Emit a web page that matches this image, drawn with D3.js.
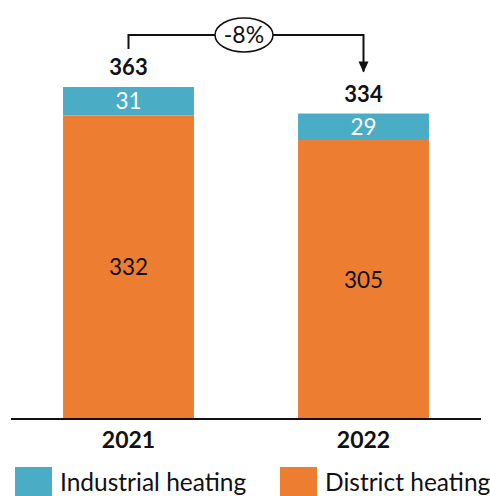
<!DOCTYPE html>
<html><head><meta charset="utf-8">
<script src="https://cdn.jsdelivr.net/npm/d3@7"></script>
<style>html,body{margin:0;padding:0;background:#fff;}</style>
</head><body>
<svg id="c" width="490" height="496"></svg>
<script>
const years = ["2021", "2022"];
const district = [332, 305];
const industrial = [31, 29];
const totals = [363, 334];
const changeLabel = "-8%";
const seriesNames = ["Industrial heating", "District heating"];
const colors = {industrial: "#4bacc6", district: "#ed7d31"};

const svg = d3.select("#c");
const font = "Lato, 'Open Sans', sans-serif";
const baseY = 419;
const x = d3.scaleBand().domain(years).range([11, 481]).paddingInner(0.443).paddingOuter(0.2215);
const y = d3.scaleLinear().domain([0, 363]).range([baseY, 87]);

const data = years.map((yr, i) => ({yr, d: district[i], ind: industrial[i], t: totals[i]}));

const g = svg.append("g");
g.selectAll(".dist").data(data).join("rect")
  .attr("x", d => x(d.yr)).attr("width", x.bandwidth())
  .attr("y", d => y(d.d)).attr("height", d => y(0) - y(d.d))
  .attr("fill", colors.district);
g.selectAll(".ind").data(data).join("rect")
  .attr("x", d => x(d.yr)).attr("width", x.bandwidth())
  .attr("y", d => y(d.d + d.ind)).attr("height", d => y(d.d) - y(d.d + d.ind))
  .attr("fill", colors.industrial);

g.selectAll(".dl").data(data).join("text")
  .attr("x", d => x(d.yr) + x.bandwidth()/2)
  .attr("y", d => (y(0) + y(d.d))/2 + 8)
  .attr("text-anchor", "middle").attr("font-family", font).attr("font-size", 22.5)
  .attr("fill", "#111").text(d => d.d);
g.selectAll(".il").data(data).join("text")
  .attr("x", d => x(d.yr) + x.bandwidth()/2)
  .attr("y", d => (y(d.d) + y(d.d + d.ind))/2 + 8)
  .attr("text-anchor", "middle").attr("font-family", font).attr("font-size", 22.5)
  .attr("fill", "#fff").text(d => d.ind);
g.selectAll(".tl").data(data).join("text")
  .attr("x", d => x(d.yr) + x.bandwidth()/2)
  .attr("y", d => y(d.t) - 12)
  .attr("text-anchor", "middle").attr("font-family", font).attr("font-size", 22).attr("font-weight", "bold")
  .attr("fill", "#111").text(d => d.t);

const ax = svg.append("g").attr("transform", `translate(0,${baseY})`)
  .call(d3.axisBottom(x).tickSize(0).tickPadding(13));
ax.select(".domain").attr("d", "M11,0H481").attr("stroke", "#111").attr("stroke-width", 2);
ax.selectAll("text").attr("font-family", font).attr("font-size", 23).attr("font-weight", "bold").attr("fill", "#111");

const cx0 = x(years[0]) + x.bandwidth()/2, cx1 = x(years[1]) + x.bandwidth()/2;
const topY = 35;
svg.append("path")
  .attr("d", `M${cx0},${y(totals[0]) - 38}V${topY}H${cx1}V${y(totals[1]) - 42}`)
  .attr("fill", "none").attr("stroke", "#111").attr("stroke-width", 2);
svg.append("path").attr("d", `M${cx1-5},${y(totals[1]) - 52}L${cx1+5},${y(totals[1]) - 52}L${cx1},${y(totals[1]) - 41}Z`).attr("fill", "#111");
const mx = (cx0 + cx1)/2 - 2;
svg.append("ellipse").attr("cx", mx).attr("cy", topY).attr("rx", 29).attr("ry", 17)
  .attr("fill", "#fff").attr("stroke", "#111").attr("stroke-width", 1.5);
svg.append("text").attr("x", mx).attr("y", topY + 8).attr("text-anchor", "middle")
  .attr("font-family", font).attr("font-size", 23).attr("fill", "#111").text(changeLabel);

const leg = svg.append("g");
const legItems = [{n: seriesNames[0], c: colors.industrial, x: 15}, {n: seriesNames[1], c: colors.district, x: 280}];
legItems.forEach(it => {
  leg.append("rect").attr("x", it.x).attr("y", 467).attr("width", 37).attr("height", 29).attr("fill", it.c);
  leg.append("text").attr("x", it.x + 45).attr("y", 491).attr("font-family", font).attr("font-size", 24.5)
    .attr("fill", "#111").text(it.n);
});
</script>
</body></html>
